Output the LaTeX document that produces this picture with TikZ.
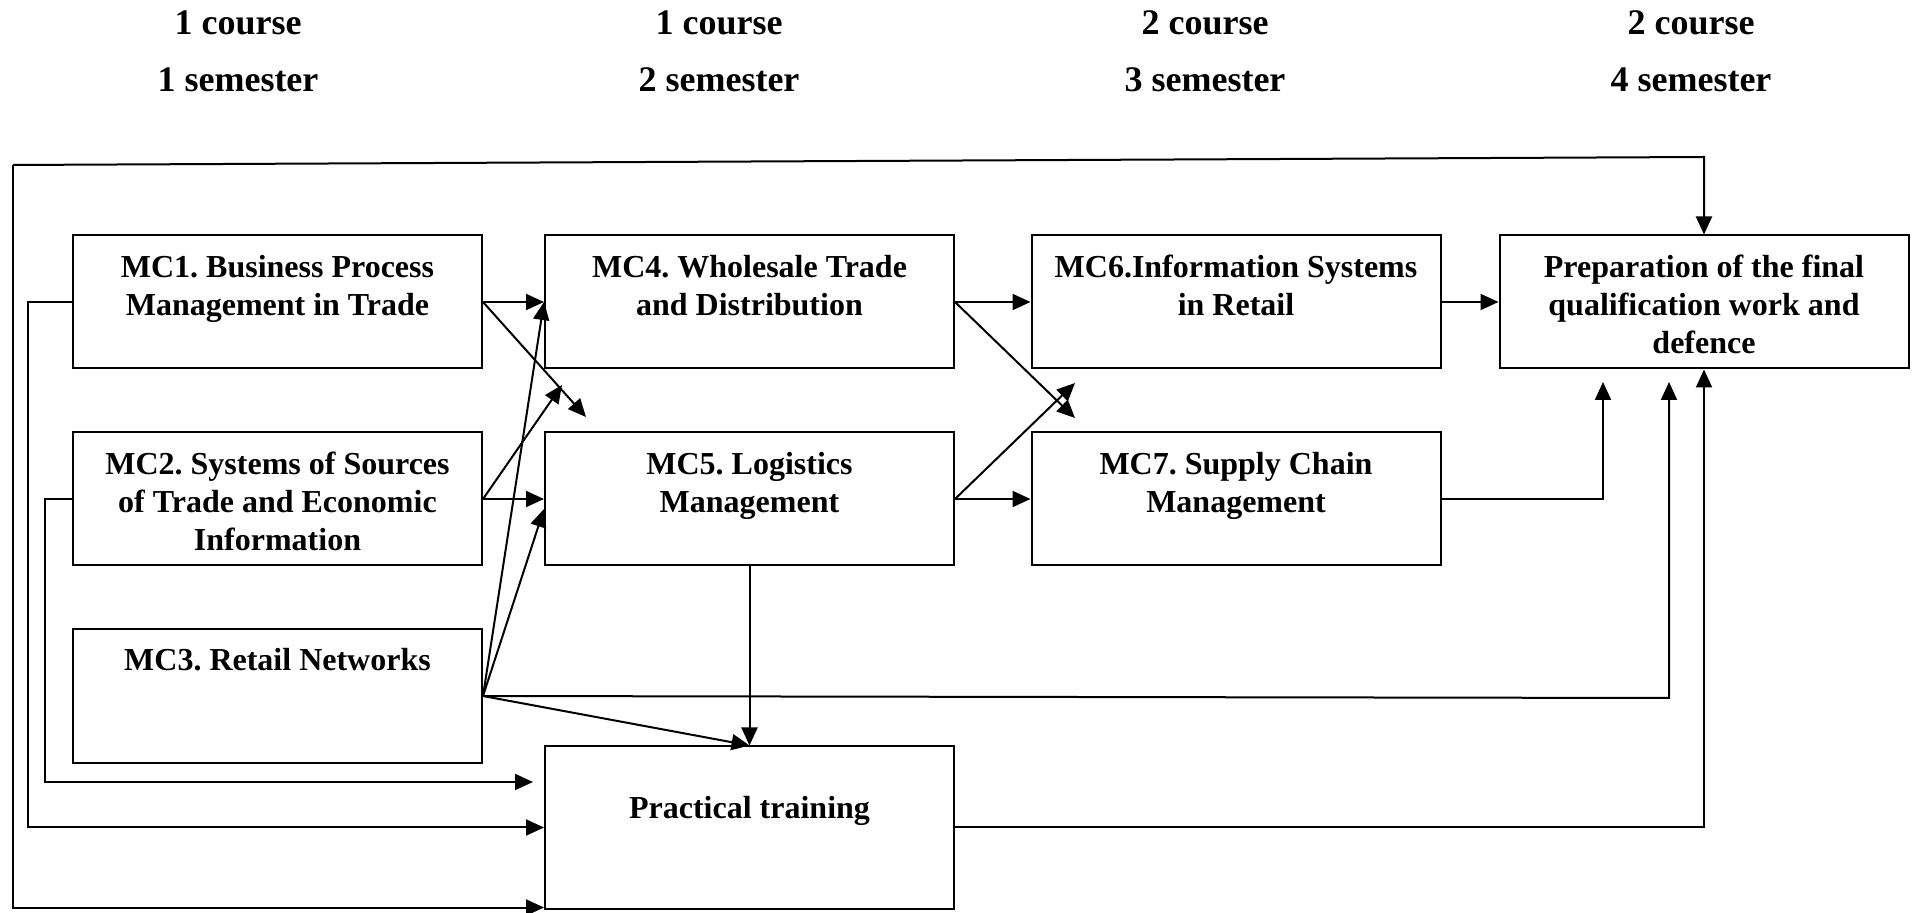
\documentclass[tikz,border=0pt]{standalone}
\usepackage{fontspec}
\setmainfont{Liberation Serif}
\usetikzlibrary{positioning}
\usetikzlibrary{calc}
\usetikzlibrary{arrows.meta}
\frenchspacing

\begin{document}
\begin{tikzpicture}[x=0.5pt,y=-0.5pt]

		\tikzset{box/.style = {shape=rectangle,draw,line width=1pt,minimum width=204.5pt,minimum height=66.5pt,inner sep=0pt}}
		\tikzset{txt/.style = {anchor=north,align=center,inner sep=0pt,font=\fontsize{16}{19}\selectfont\bfseries}}
		\tikzset{head/.style = {font=\fontsize{18}{22}\selectfont\bfseries}}
		\tikzset{edge/.style = {line width=1pt,-{Triangle[length=9pt,width=8pt]}}}

		\useasboundingbox (0,0) rectangle (1912,913);

		% courses and semesters
		\foreach \x/\yr/\sm in {238/1/1,719/1/2,1205/2/3,1691/2/4}{
			\node[head] (course\sm) at (\x,23) {\yr\ course};
			\node[head] (sem\sm) at (\x,80) {\sm\ semester};
		}

		% vertices
		\node[box] (mc1) at (277.5,302) {};
		\node[box] (mc4) at (749.5,302) {};
		\node[box] (mc6) at (1236,302) {};
		\node[box] (prep) at (1704,302) {};
		\node[box] (mc2) at (277.5,499) {};
		\node[box] (mc5) at (749.5,499) {};
		\node[box] (mc7) at (1236,499) {};
		\node[box,minimum height=67pt] (mc3) at (277.5,696) {};
		\node[box,minimum height=81pt] (prac) at (749.5,827.5) {};

		% texts
		\node[txt] (mc1t) at ([yshift=-10pt]mc1.north) {MC1. Business Process\\Management in Trade};
		\node[txt] (mc4t) at ([yshift=-10pt]mc4.north) {MC4. Wholesale Trade\\and Distribution};
		\node[txt] (mc6t) at ([yshift=-10pt]mc6.north) {MC6.Information Systems\\in Retail};
		\node[txt] (prept) at ([yshift=-10pt]prep.north) {Preparation of the final\\qualification work and\\defence};
		\node[txt] (mc2t) at ([yshift=-10pt]mc2.north) {MC2. Systems of Sources\\of Trade and Economic\\Information};
		\node[txt] (mc5t) at ([yshift=-10pt]mc5.north) {MC5. Logistics\\Management};
		\node[txt] (mc7t) at ([yshift=-10pt]mc7.north) {MC7. Supply Chain\\Management};
		\node[txt] (mc3t) at ([yshift=-10pt]mc3.north) {MC3. Retail Networks};
		\node[txt] (pract) at ([yshift=-25pt]prac.north) {Practical training};

		% free ends
		\coordinate (topl) at (13,165);
		\coordinate (topr) at (1704,157);
		\coordinate (d1) at (586,417);
		\coordinate (d2) at (562,385);
		\coordinate (d4) at (1075,418);
		\coordinate (d5) at (1075,383);
		\coordinate (r3a) at (1669,698);
		\coordinate (r3) at (1669,382);
		\coordinate (r7) at (1603,382);
		\coordinate (l2) at (533,782);

		%edges
		\draw[edge] (mc1.east) to (mc4.west);
		\draw[edge] (mc1.east) to (d1);
		\draw[edge] (mc2.east) to (mc5.west);
		\draw[edge] (mc2.east) to (d2);
		\draw[edge] (mc3.east) to (mc4.west);
		\draw[edge] (mc3.east) to ([yshift=-5pt]mc5.west);
		\draw[edge] (mc3.east) to (prac.north);
		\draw[edge] (mc3.east) -- (r3a) -- (r3);

		\draw[edge] (mc4.east) to (mc6.west);
		\draw[edge] (mc4.east) to (d4);
		\draw[edge] (mc5.east) to (mc7.west);
		\draw[edge] (mc5.east) to (d5);
		\draw[edge] (mc5.south) to (prac.north);

		\draw[edge] (mc6.east) to (prep.west);
		\draw[edge] (mc7.east) -| (r7);
		\draw[edge] (prac.east) -| (prep.south);

		\draw[edge] (mc1.west) -- ++(-44,0) |- (prac.west);
		\draw[edge] (mc2.west) -- ++(-27,0) |- (l2);
		\draw[edge] (topl) -- (topr) -- (prep.north);
		\draw[edge] (topl) |- ([yshift=1pt]prac.south west);

\end{tikzpicture}
\end{document}
